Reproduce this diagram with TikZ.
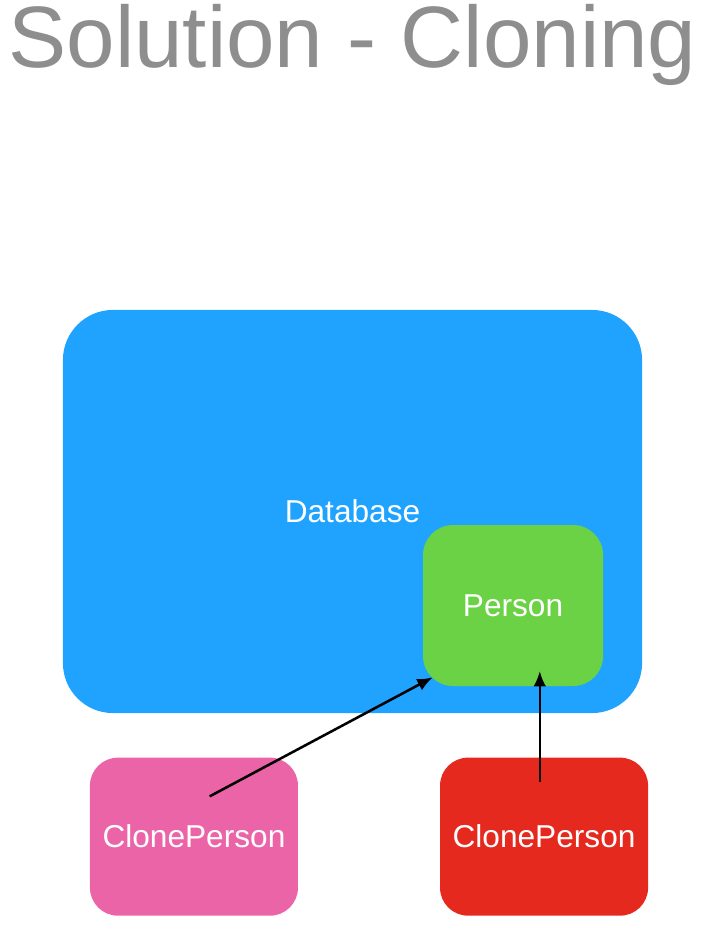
\documentclass[tikz,border=0pt]{standalone}
\usepackage{fontspec}
\setmainfont{Liberation Sans}
\usetikzlibrary{shapes,arrows.meta}
\usetikzlibrary{positioning}
\definecolor{dbblue}{HTML}{1FA3FF}
\definecolor{persongreen}{HTML}{6BD245}
\definecolor{clonepink}{HTML}{EC64A8}
\definecolor{clonered}{HTML}{E5291E}
\definecolor{titlegray}{HTML}{8E8E8E}
\tikzstyle{box} = [rectangle, text=white, font=\fontsize{22.5}{27}\selectfont, inner sep=0pt]
\tikzstyle{line} = [draw, -{Latex[length=11pt,width=9pt]}, line width=1.8pt, color=black]

\begin{document}
\begin{tikzpicture}[x=0.025cm, y=-0.025cm,
	clone/.style={box, minimum width=5.2cm, minimum height=3.95cm, rounded corners=0.7cm}]
	\useasboundingbox (0,0) rectangle (725,951);
	\node [anchor=base, text=titlegray, font=\fontsize{62}{70}\selectfont] (title) at (352.5,68) {Solution - Cloning};
	\node [box, fill=dbblue, minimum width=14.475cm, minimum height=10.075cm, rounded corners=1.25cm] (db) at (352.5,511.5) {Database};
	\node [box, fill=persongreen, minimum width=4.5cm, minimum height=4.025cm, rounded corners=0.75cm,
		above left=0.675cm and 0.975cm of db.south east] (person) {Person};
	\node [clone, fill=clonepink, below right=1.1cm and 0.675cm of db.south west] (pinkclone) {ClonePerson};
	\node [clone, fill=clonered, below left=1.1cm and -0.15cm of db.south east] (redclone) {ClonePerson};
	\coordinate (p1) at ([shift={(3cm,-0.975cm)}]pinkclone.north west);
	\coordinate (p2) at ([shift={(0.25cm,0.225cm)}]person.south west);
	\coordinate (r1) at ([shift={(2.5cm,-0.625cm)}]redclone.north west);
	\coordinate (r2) at (r1 |- 0,671);
	%% Links
	\path [line] (p1) -- (p2);
	\path [line] (r1) -- (r2);
\end{tikzpicture}
\end{document}
